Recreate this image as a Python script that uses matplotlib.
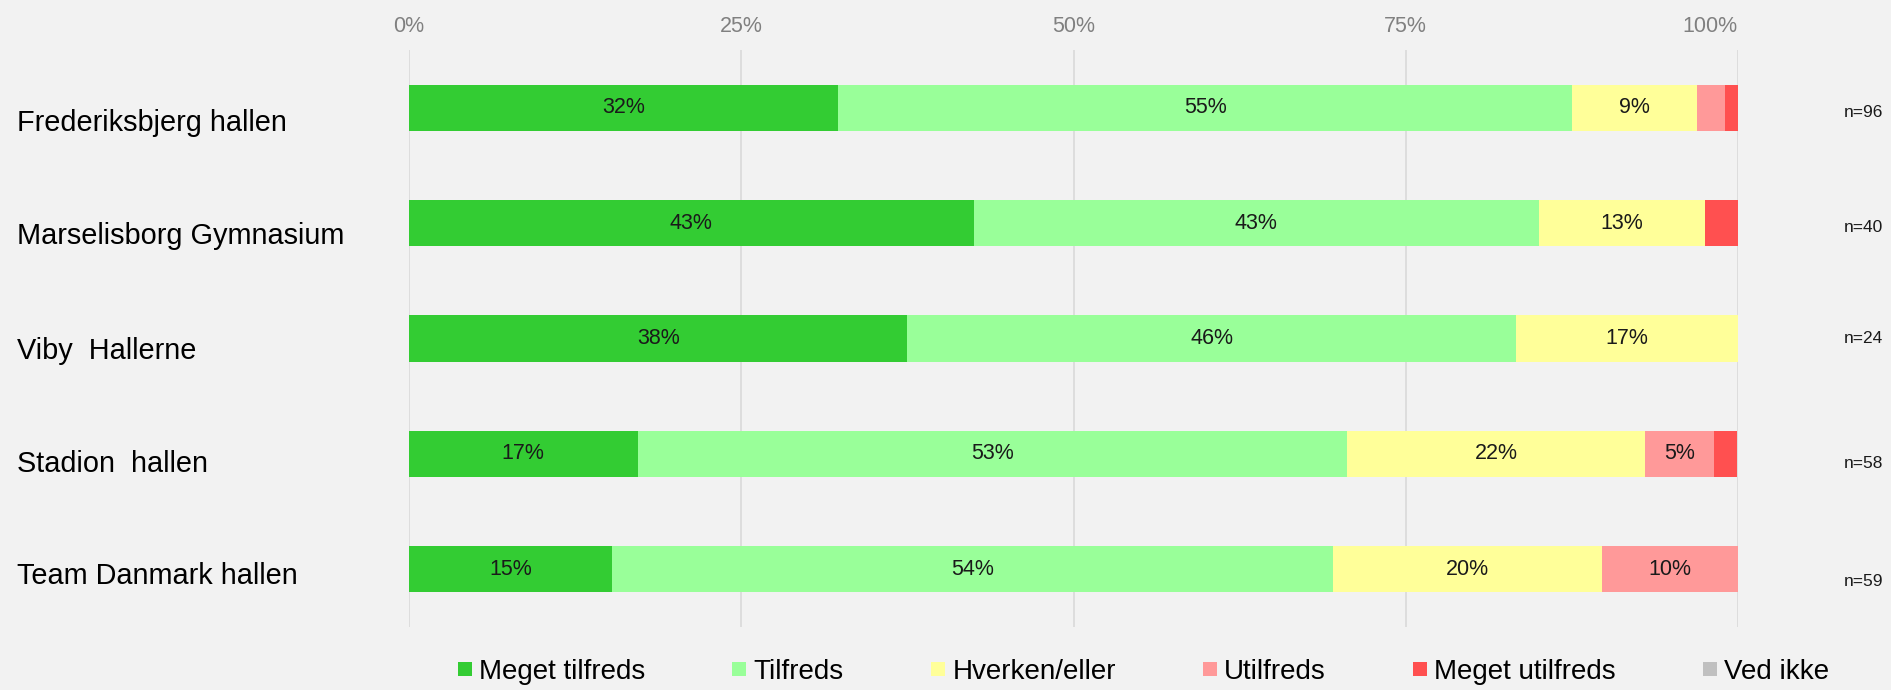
import matplotlib
matplotlib.use("Agg")
import matplotlib.pyplot as plt
from matplotlib.lines import Line2D
from matplotlib.transforms import blended_transform_factory

plt.rcParams['font.family'] = ['Liberation Sans', 'DejaVu Sans']

categories = ["Frederiksbjerg hallen", "Marselisborg Gymnasium", "Viby  Hallerne",
              "Stadion  hallen", "Team Danmark hallen"]
series_names = ["Meget tilfreds", "Tilfreds", "Hverken/eller", "Utilfreds",
                "Meget utilfreds", "Ved ikke"]
colors = ["#33cc33", "#99ff99", "#ffff99", "#ff9999", "#ff5050", "#c0c0c0"]

meget_tilfreds = [32.3, 42.5, 37.5, 17.2, 15.3]
tilfreds = [55.2, 42.5, 45.8, 53.4, 54.2]
hverken_eller = [9.4, 12.5, 16.7, 22.4, 20.3]
utilfreds = [2.1, 0.0, 0.0, 5.2, 10.2]
meget_utilfreds = [1.0, 2.5, 0.0, 1.7, 0.0]
ved_ikke = [0.0, 0.0, 0.0, 0.0, 0.0]
n_labels = ["n=96", "n=40", "n=24", "n=58", "n=59"]
xticks = [0, 25, 50, 75, 100]
xtick_labels = ["0%", "25%", "50%", "75%", "100%"]

series = [meget_tilfreds, tilfreds, hverken_eller, utilfreds, meget_utilfreds, ved_ikke]

bg = "#f2f2f2"
fig = plt.figure(figsize=(18.91, 6.9), dpi=100, facecolor=bg)
ax = fig.add_axes([409/1891, 1-627/690, 1329/1891, 577/690])
ax.set_facecolor(bg)

ypos = list(range(len(categories)))
left = [0.0]*len(categories)
for vals, col in zip(series, colors):
    ax.barh(ypos, vals, left=left, height=0.4, color=col, zorder=3)
    for i, v in enumerate(vals):
        if v >= 4:
            ax.text(left[i] + v/2, i, f"{int(v + 0.5)}%", ha='center', va='center',
                    fontsize=15.5, color='#1a1a1a', zorder=4)
    left = [l + v for l, v in zip(left, vals)]

ax.set_xlim(0, 100)
ax.set_ylim(4.5, -0.5)
ax.xaxis.tick_top()
ax.set_xticks(xticks)
ax.set_xticklabels(xtick_labels, fontsize=15.5, color='#808080')
ax.get_xticklabels()[-1].set_horizontalalignment('right')
ax.tick_params(axis='x', length=0, pad=9)
ax.set_yticks([])
ax.grid(axis='x', color='#d9d9d9', linewidth=1.2, zorder=0)
for s in ax.spines.values():
    s.set_visible(False)

trans = blended_transform_factory(fig.transFigure, ax.transData)
label_offsets = [0.2, 0.18, 0.18, 0.16, 0.13]
for i, (c, off) in enumerate(zip(categories, label_offsets)):
    ax.text(17/1891, i + off, c, transform=trans, ha='left', va='baseline',
            fontsize=20.8, color='#000000')

n_offsets = [0.04, 0.04, 0.0, 0.08, 0.11]
for i, (t, off) in enumerate(zip(n_labels, n_offsets)):
    ax.text(1883/1891, i + off, t, transform=trans, ha='right', va='center',
            fontsize=12.5, color='#1a1a1a')

handles = [Line2D([], [], marker='s', linestyle='', markersize=10, color=c,
                  markeredgewidth=0) for c in colors]
fig.legend(handles, series_names, loc='center left',
           bbox_to_anchor=(457/1891, 1-672/690), ncol=6, frameon=False,
           fontsize=20, handlelength=0.55, handletextpad=0.25,
           columnspacing=3.1, borderpad=0, borderaxespad=0)

fig.savefig("out.png", dpi=100, facecolor=bg)
